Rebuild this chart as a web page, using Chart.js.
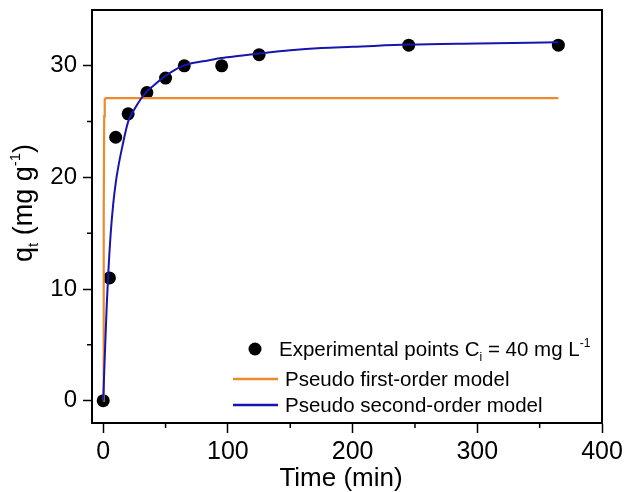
<!DOCTYPE html>
<html><head><meta charset="utf-8">
<script src="https://cdn.jsdelivr.net/npm/chart.js@4.4.0/dist/chart.umd.min.js"></script>
<style>html,body{margin:0;padding:0;background:#fff;}#wrap{width:624px;height:492px;}</style>
</head><body><div id="wrap"><canvas id="c" width="624" height="492"></canvas></div>
<script>
// ---- data ----
const timeMin = [0, 5, 10, 20, 35, 50, 65, 95, 125, 245, 365];
const qtExp   = [0, 11.0, 23.6, 25.7, 27.6, 28.9, 30.0, 30.0, 31.0, 31.85, 31.85];

const pfoTime = [0, 0.4, 0.8, 1.2, 2, 365];
const pfoQt   = [0, 17, 25.5, 27.0, 27.1, 27.1];

const psoTime = [0, 1, 2, 3, 4, 5, 6, 8, 10, 12, 15, 20, 25, 30, 35, 40, 50, 60, 70, 80, 95, 110, 125, 150, 175, 200, 245, 300, 365];
const psoQt   = [0, 3.2, 6.2, 9.0, 11.3, 13.3, 15.0, 17.6, 19.5, 20.9, 22.6, 25.0, 26.1, 27.0, 27.7, 28.2, 29.1, 29.8, 30.2, 30.4, 30.7, 30.9, 31.1, 31.4, 31.6, 31.7, 31.9, 32.0, 32.1];

const xTicks = [0, 100, 200, 300, 400];
const yTicks = [0, 10, 20, 30];
const xMinor = [50, 150, 250, 350];
const yMinor = [5, 15, 25];

const legendLabels = ['Experimental points C', 'Pseudo first-order model', 'Pseudo second-order model'];
const xTitle = 'Time (min)';

const ORANGE = '#EC8A2C';
const BLUE = '#1616AE';
const FONT = '"Liberation Sans", Arial, Helvetica, sans-serif';

const toXY = (xs, ys) => xs.map((x, i) => ({x: x, y: ys[i]}));

const decor = {
  id: 'decor',
  afterDraw(chart) {
    const ctx = chart.ctx, a = chart.chartArea;
    const xs = chart.scales.x, ys = chart.scales.y;
    ctx.save();
    // frame
    ctx.strokeStyle = '#000'; ctx.lineWidth = 2;
    ctx.strokeRect(a.left, a.top, a.right - a.left, a.bottom - a.top);
    // minor ticks
    ctx.lineWidth = 1.5;
    ctx.beginPath();
    xMinor.forEach(v => { const p = xs.getPixelForValue(v); ctx.moveTo(p, a.bottom); ctx.lineTo(p, a.bottom + 5); });
    yMinor.forEach(v => { const p = ys.getPixelForValue(v); ctx.moveTo(a.left, p); ctx.lineTo(a.left - 5, p); });
    ctx.stroke();

    ctx.fillStyle = '#000';
    // x title
    ctx.font = '26px ' + FONT;
    ctx.textAlign = 'center'; ctx.textBaseline = 'alphabetic';
    ctx.fillText(xTitle, 341, 486);

    // y title: q_t (mg g^-1)
    ctx.save();
    ctx.translate(32, 203);
    ctx.rotate(-Math.PI / 2);
    ctx.textAlign = 'left';
    const big = '27px ' + FONT, small = '15px ' + FONT;
    const parts = [['q', big, 0], ['t', small, 6], [' (mg g', big, 0], ['-1', small, -12], [')', big, 0]];
    let w = 0;
    parts.forEach(p => { ctx.font = p[1]; w += ctx.measureText(p[0]).width; });
    let cx = -w / 2;
    parts.forEach(p => { ctx.font = p[1]; ctx.fillText(p[0], cx, p[2]); cx += ctx.measureText(p[0]).width; });
    ctx.restore();

    // legend
    const lf = '20.5px ' + FONT, sf = '12px ' + FONT;
    ctx.textAlign = 'left';
    // row 1
    ctx.beginPath(); ctx.arc(255, 349, 6.5, 0, Math.PI * 2); ctx.fill();
    let x = 279;
    const row1 = [[legendLabels[0], lf, 0], ['i', sf, 5], [' = 40 mg L', lf, 0], ['-1', sf, -9]];
    row1.forEach(p => { ctx.font = p[1]; ctx.fillText(p[0], x, 356 + p[2]); x += ctx.measureText(p[0]).width; });
    // row 2
    ctx.lineWidth = 2.5;
    ctx.strokeStyle = ORANGE;
    ctx.beginPath(); ctx.moveTo(233, 379); ctx.lineTo(278, 379); ctx.stroke();
    ctx.font = lf; ctx.fillText(legendLabels[1], 285, 386);
    // row 3
    ctx.strokeStyle = BLUE;
    ctx.beginPath(); ctx.moveTo(233, 405); ctx.lineTo(278, 405); ctx.stroke();
    ctx.fillText(legendLabels[2], 285, 412);
    ctx.restore();
  }
};

new Chart(document.getElementById('c'), {
  type: 'scatter',
  data: {
    datasets: [
      { label: 'Pseudo second-order model', data: toXY(psoTime, psoQt), showLine: true, borderColor: BLUE, borderWidth: 2, pointRadius: 0, cubicInterpolationMode: 'monotone', order: 0 },
      { label: 'Pseudo first-order model', data: toXY(pfoTime, pfoQt), showLine: true, borderColor: ORANGE, borderWidth: 2.2, pointRadius: 0, tension: 0, order: 1 },
      { label: 'Experimental points', data: toXY(timeMin, qtExp), showLine: false, pointRadius: 6.5, pointBackgroundColor: '#000', pointBorderWidth: 0, borderColor: '#000', order: 2 }
    ]
  },
  options: {
    responsive: false, animation: false, devicePixelRatio: 1,
    layout: { padding: { left: 0, right: 22, top: 10, bottom: 0 } },
    plugins: { legend: { display: false }, tooltip: { enabled: false } },
    scales: {
      x: {
        type: 'linear', min: -9, max: 400,
        afterBuildTicks: s => { s.ticks = xTicks.map(v => ({value: v})); },
        afterFit: s => { s.height = 69; s.paddingLeft = 0; s.paddingRight = 0; },
        grid: { drawOnChartArea: false, drawTicks: true, tickLength: 10, tickColor: '#000', tickWidth: 1.5 },
        border: { display: true, color: '#000', width: 2 },
        ticks: { color: '#000', font: { family: FONT, size: 25 }, padding: 4, maxRotation: 0, autoSkip: false },
        title: { display: false }
      },
      y: {
        type: 'linear', min: -2, max: 35,
        afterBuildTicks: s => { s.ticks = yTicks.map(v => ({value: v})); },
        afterFit: s => { s.width = 92; s.paddingTop = 0; s.paddingBottom = 0; },
        grid: { drawOnChartArea: false, drawTicks: true, tickLength: 9, tickColor: '#000', tickWidth: 1.5 },
        border: { display: true, color: '#000', width: 2 },
        ticks: { color: '#000', font: { family: FONT, size: 24 }, padding: 6, autoSkip: false },
        title: { display: false }
      }
    }
  },
  plugins: [decor]
});
</script></body></html>
